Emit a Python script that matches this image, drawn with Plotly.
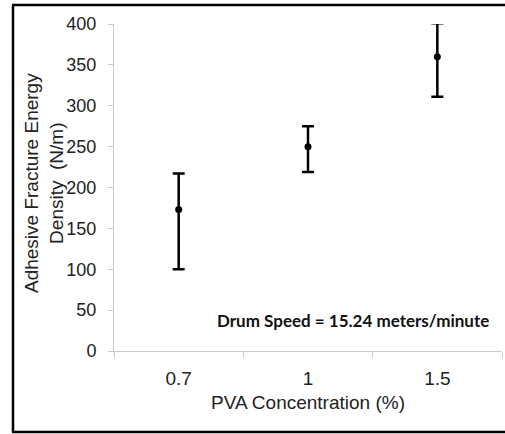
import plotly.graph_objects as go

categories = ["0.7", "1", "1.5"]
means = [173, 250, 360]
err_plus = [44, 25, 41]
err_minus = [73, 31, 49]
y_ticks = [0, 50, 100, 150, 200, 250, 300, 350, 400]

W, H = 505, 434
L, R, T, B = 114, 3, 24, 83
pw, ph = W - L - R, H - T - B

fig = go.Figure()
fig.add_trace(go.Scatter(
    x=categories, y=means, mode="markers",
    marker=dict(color="black", size=7),
    error_y=dict(type="data", symmetric=False, array=err_plus, arrayminus=err_minus,
                 color="black", thickness=2.5, width=6),
    showlegend=False,
))

def px_x(x):
    return (x - L) / pw

def px_y(y):
    return (H - B - y) / ph

font = dict(family="Liberation Sans, Arial, sans-serif", color="#222222")

fig.update_layout(
    width=W, height=H,
    margin=dict(l=L, r=R, t=T, b=B),
    paper_bgcolor="white", plot_bgcolor="white",
    font=font,
    xaxis=dict(
        type="category", range=[-0.5, 2.5], tickson="boundaries",
        showline=True, linecolor="#cccccc", linewidth=1,
        ticks="outside", ticklen=6, tickcolor="#cccccc",
        showgrid=False, zeroline=False,
        tickfont=dict(size=19, color="#222222"),
        ticklabelstandoff=10,
    ),
    yaxis=dict(
        range=[0, 400], tickvals=y_ticks,
        showline=True, linecolor="#cccccc", linewidth=1,
        ticks="outside", ticklen=5, tickcolor="#cccccc",
        showgrid=False, zeroline=False,
        tickfont=dict(size=18, color="#222222"),
        ticklabelstandoff=8,
    ),
    annotations=[
        dict(text="Adhesive Fracture Energy<br>Density  (N/m)", textangle=-90,
             xref="paper", yref="paper", x=px_x(44), y=px_y(183),
             xanchor="center", yanchor="middle",
             showarrow=False, font=dict(size=19, color="#222222"), align="center"),
        dict(text="PVA Concentration (%)",
             xref="paper", yref="paper", x=px_x(308), y=px_y(402),
             xanchor="center", yanchor="middle",
             showarrow=False, font=dict(size=19, color="#222222")),
        dict(text="<b>Drum Speed = 15.24 meters/minute</b>",
             xref="paper", yref="paper", x=px_x(353), y=px_y(320),
             xanchor="center", yanchor="middle",
             showarrow=False,
             font=dict(family="Lato, sans-serif", size=17, color="#111111")),
    ],
    shapes=[
        dict(type="line", xref="paper", yref="paper", x0=px_x(13), x1=px_x(13), y0=px_y(5), y1=px_y(432),
             line=dict(color="black", width=2.5)),
        dict(type="line", xref="paper", yref="paper", x0=px_x(12), x1=px_x(W + 5), y0=px_y(5), y1=px_y(5),
             line=dict(color="black", width=2.5)),
        dict(type="line", xref="paper", yref="paper", x0=px_x(12), x1=px_x(W + 5), y0=px_y(432), y1=px_y(432),
             line=dict(color="black", width=2.5)),
    ],
)

fig.write_html("out.html")
